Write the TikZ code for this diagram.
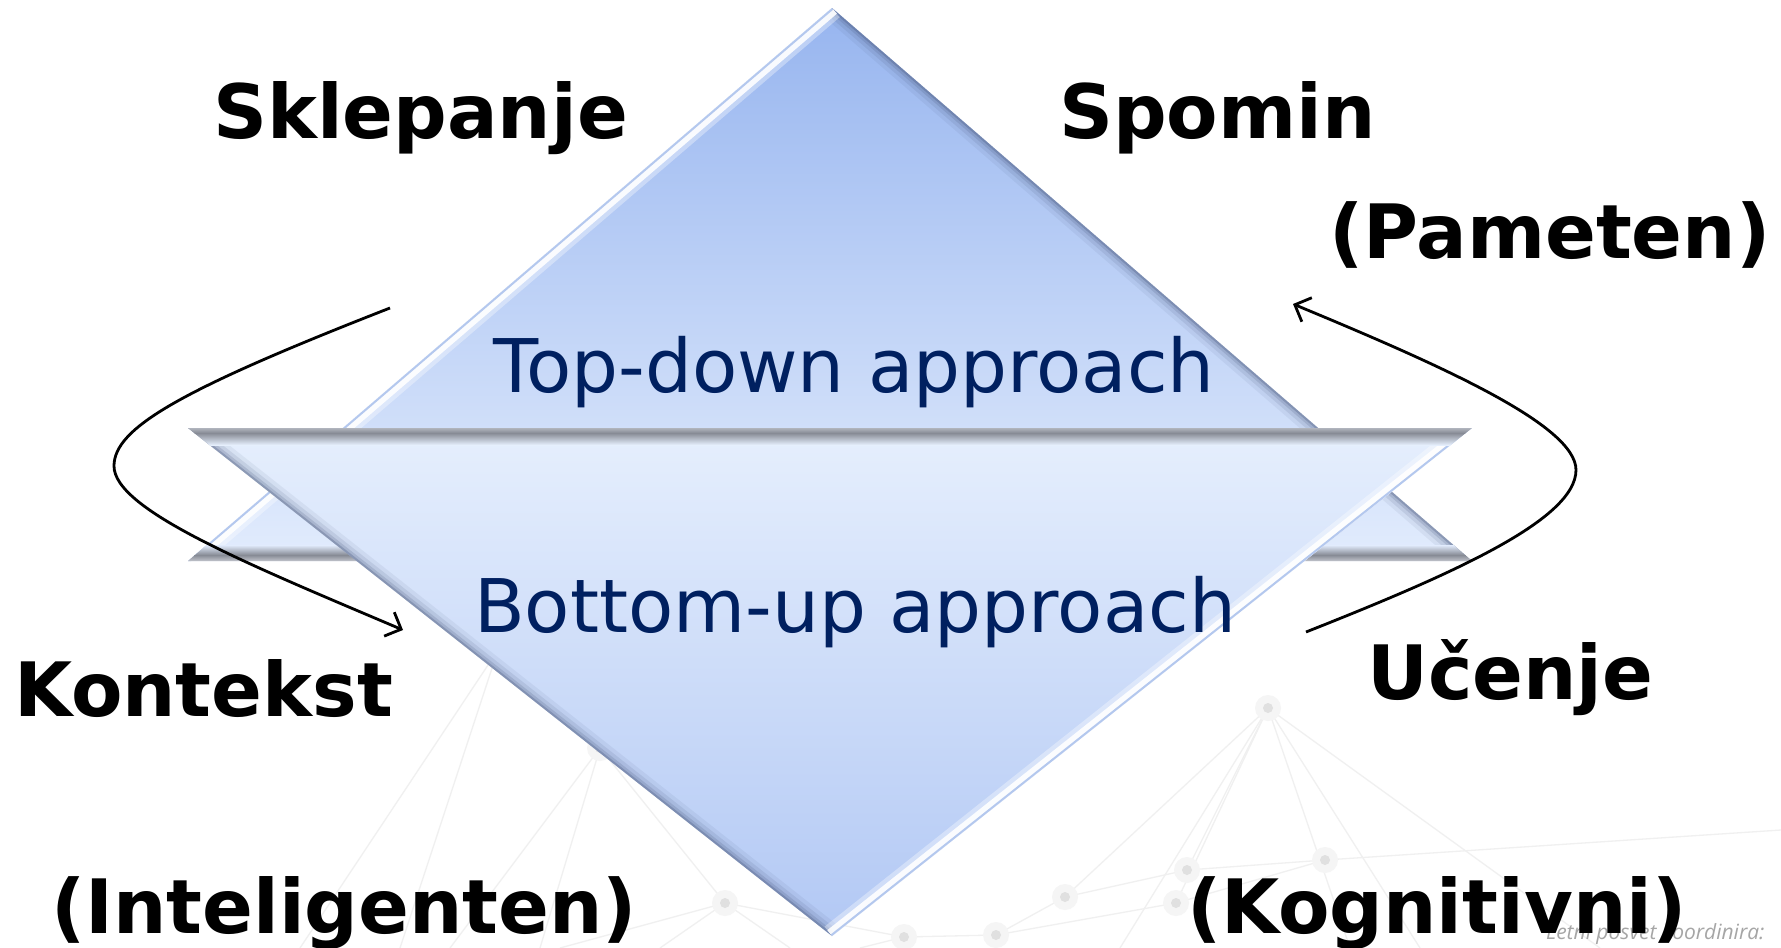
\documentclass[tikz,border=0pt]{standalone}
\usepackage{fontspec}
\setmainfont{DejaVu Sans}
\newfontfamily\notefont{Open Sans}
\usetikzlibrary{arrows.meta}
\definecolor{upTop}{HTML}{97B5EF}
\definecolor{upBot}{HTML}{E2ECFD}
\definecolor{dnTop}{HTML}{E6EFFD}
\definecolor{dnBot}{HTML}{B2C8F4}
\definecolor{bandGray}{HTML}{878B95}
\definecolor{bandLight}{HTML}{C5C8D0}
\definecolor{bandLightB}{HTML}{B4B8C1}
\definecolor{shadowc}{HTML}{46557A}
\definecolor{edgeblue}{HTML}{B4C8EE}
\definecolor{navy}{HTML}{002060}
\definecolor{notegray}{HTML}{A6A6A6}
\definecolor{netline}{HTML}{F0F0F0}
\definecolor{netdot}{HTML}{E0E0E0}
\definecolor{nethalo}{HTML}{F5F5F5}
\tikzset{
  lbl/.style={anchor=base west, inner sep=0pt, text=black, font=\fontsize{75}{88}\selectfont\bfseries},
  appr/.style={anchor=base, inner sep=0pt, text=navy, font=\fontsize{74}{88}\selectfont},
  notetext/.style={anchor=base west, inner sep=0pt, text=notegray, font=\notefont\itshape\fontsize{21}{25}\selectfont},
  cycarrow/.style={line width=2.8pt, black, -{Straight Barb[length=13pt,width=26pt,line width=2.8pt]}},
  netl/.style={netline, line width=1.3pt},
}
\begin{document}
\begin{tikzpicture}[x=1pt,y=-1pt]
\useasboundingbox (0,0) rectangle (1781,948);
\fill[white] (0,0) rectangle (1781,948);

% ---------- faint background network ----------
\coordinate (n1) at (1268,708);
\coordinate (n2) at (725,903);
\coordinate (n3) at (904,937);
\coordinate (n4) at (996,935);
\coordinate (n5) at (1187,870);
\coordinate (n6) at (1176,903);
\coordinate (n7) at (1325,860);
\coordinate (n9) at (1065,897);
\coordinate (n10) at (600,748);
\coordinate (n11) at (498,650);
\draw[netl] (n1) -- (n6);
\draw[netl] (n1) -- (n5);
\draw[netl] (n1) -- (n9);
\draw[netl] (n1) -- (1120,948);
\draw[netl] (n1) -- (1420,948);
\draw[netl] (n1) -- (1600,948);
\draw[netl] (n1) -- (1350,948);
\draw[netl] (n2) -- (n3);
\draw[netl] (n3) -- (n4);
\draw[netl] (n4) -- (n6);
\draw[netl] (n4) -- (n9);
\draw[netl] (n9) -- (n5);
\draw[netl] (n5) -- (n7);
\draw[netl] (n6) -- (n7);
\draw[netl] (n7) -- (1781,830);
\draw[netl] (n2) -- (n10);
\draw[netl] (n10) -- (450,948);
\draw[netl] (n10) -- (540,948);
\draw[netl] (n10) -- (n11);
\draw[netl] (n11) -- (300,948);
\draw[netl] (n11) -- (400,948);
\draw[netl] (n2) -- (660,948);
\draw[netl] (n2) -- (790,948);
\draw[netl] (n3) -- (860,948);
\draw[netl] (n2) -- (560,948);
\foreach \p in {n1,n2,n3,n4,n5,n6,n7,n9,n10,n11} {
  \fill[nethalo] (\p) circle (13);
  \fill[netdot] (\p) circle (5);
}

% ---------- upward triangle (Top-down) ----------
\coordinate (ua) at (832,8);
\coordinate (ul) at (188,561);
\coordinate (ur) at (1472,561);
\shade[top color=upTop, bottom color=upBot] (ua) -- (ur) -- (ul) -- cycle;
\begin{scope}
  \clip (ua) -- (ur) -- (ul) -- cycle;
  \foreach \w/\o in {24/0.08, 16/0.12, 9/0.18, 4/0.3}
    \draw[line width=\w pt, shadowc, opacity=\o] (ua) -- (ur);
  \draw[line width=24pt, white, opacity=0.35] (ua) -- (ul);
  \draw[line width=15pt, white, opacity=0.9] (ua) -- (ul);
  \draw[line width=4pt, edgeblue] (ua) -- (ul);
  \shade[top color=upBot, bottom color=bandGray] (150,545) rectangle (1500,555);
  \shade[top color=bandGray, bottom color=bandLight] (150,555) rectangle (1500,561.5);
\end{scope}

% ---------- downward triangle (Bottom-up) ----------
\coordinate (dl) at (188,428);
\coordinate (dr) at (1472,428);
\coordinate (db) at (832,936);
\shade[top color=dnTop, bottom color=dnBot] (dl) -- (dr) -- (db) -- cycle;
\begin{scope}
  \clip (dl) -- (dr) -- (db) -- cycle;
  \foreach \w/\o in {24/0.08, 16/0.12, 9/0.18, 4/0.3}
    \draw[line width=\w pt, shadowc, opacity=\o] (dl) -- (db);
  \draw[line width=24pt, white, opacity=0.35] (dr) -- (db);
  \draw[line width=15pt, white, opacity=0.9] (dr) -- (db);
  \draw[line width=4pt, edgeblue] (dr) -- (db);
  \shade[top color=bandLightB, bottom color=bandGray] (150,427.5) rectangle (1500,433);
  \shade[top color=bandGray, bottom color=dnTop] (150,433) rectangle (1500,445);
\end{scope}

% ---------- cycle arrows ----------
\coordinate (la) at (390,308);
\coordinate (lb) at (403,630);
\coordinate (ra) at (1306,632);
\coordinate (rb) at (1293,304);
\draw[cycarrow] (la) .. controls (180,390) and (114,428) .. (114,466)
                     .. controls (114,510) and (250,565) .. (lb);
\draw[cycarrow] (ra) .. controls (1450,575) and (1576,520) .. (1576,470)
                     .. controls (1576,425) and (1440,365) .. (rb);

% ---------- texts ----------
\node[appr] (td) at (854,392) {Top-down approach};
\node[appr] (bu) at (855,632) {Bottom-up approach};

\node[notetext] (note) at (1546,939) {Letni posvet koordinira:};

\node[lbl] (skl) at (213,138) {Sklepanje};
\node[lbl] (spo) at (1059,138) {Spomin};
\node[lbl] (pam) at (1329,258) {(Pameten)};
\node[lbl] (kon) at (14,716) {Kontekst};
\node[lbl] (uce) at (1367,699) {Učenje};
\node[lbl] (int) at (51,933) {(Inteligenten)};
\node[lbl] (kog) at (1187,933) {(Kognitivni)};
\end{tikzpicture}
\end{document}
